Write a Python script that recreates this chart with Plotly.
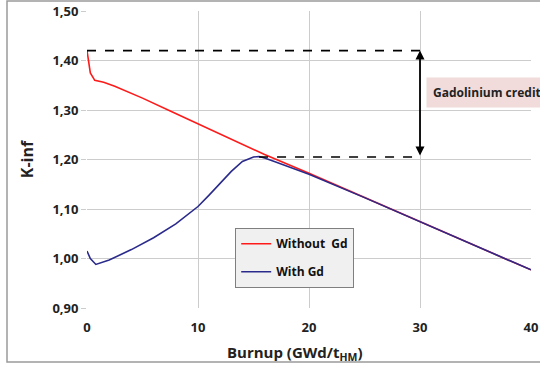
import plotly.graph_objects as go

burnup_nogd = [0, 0.3, 0.7, 1.5, 2.5, 5, 7.5, 10, 12.5, 15, 16, 20, 25, 30, 35, 40]
k_nogd = [1.42, 1.375, 1.36, 1.356, 1.348, 1.324, 1.298, 1.272, 1.246, 1.22, 1.21, 1.172, 1.123, 1.074, 1.026, 0.977]

burnup_gd = [0, 0.3, 0.8, 2, 4, 6, 8, 10, 11, 12, 13, 14, 15, 15.5, 16, 17, 20, 25, 30, 35, 40]
k_gd = [1.015, 1.0, 0.988, 0.997, 1.018, 1.042, 1.07, 1.105, 1.128, 1.152, 1.176, 1.196, 1.205, 1.206, 1.203, 1.195, 1.17, 1.123, 1.074, 1.026, 0.977]

x_ticks = [0, 10, 20, 30, 40]
y_ticks = [0.9, 1.0, 1.1, 1.2, 1.3, 1.4, 1.5]
y_tick_text = ["0,90", "1,00", "1,10", "1,20", "1,30", "1,40", "1,50"]

k_top = 1.42
k_peak = 1.205
credit_x = 30
peak_x = 15.5

FONT = "Open Sans"

fig = go.Figure()
fig.add_trace(go.Scatter(x=burnup_nogd, y=k_nogd, mode="lines", name="Without\u00a0\u00a0Gd",
                         legendgroup="a", line=dict(color="#ff1a1a", width=1.6)))
fig.add_trace(go.Scatter(x=burnup_gd, y=k_gd, mode="lines", name="With Gd",
                         legendgroup="b", line=dict(color="#2a2a8c", width=1.6)))

# dashed reference lines
fig.add_trace(go.Scatter(x=[0, credit_x], y=[k_top, k_top], mode="lines", showlegend=False,
                         line=dict(color="black", width=1.6, dash="dash"), hoverinfo="skip"))
fig.add_trace(go.Scatter(x=[peak_x, credit_x], y=[k_peak, k_peak], mode="lines", showlegend=False,
                         line=dict(color="black", width=1.6, dash="dash"), hoverinfo="skip"))

fig.add_annotation(x=credit_x, y=k_top, ax=credit_x, ay=k_peak, xref="x", yref="y",
                   axref="x", ayref="y", text="", showarrow=True, arrowhead=2,
                   arrowside="end+start", arrowwidth=1.8, arrowsize=1, arrowcolor="black")
fig.add_annotation(x=30.5, y=1.335, xref="x", yref="y", text="<b>Gadolinium credit</b>",
                   showarrow=False, xanchor="left", yanchor="middle",
                   bgcolor="#f2dcdb", borderpad=6,
                   font=dict(family=FONT, size=12, color="#222"))

# outer chart border
def px2paper_x(px):
    return (px - 87) / (531 - 87)

def px2paper_y(py):
    return (308 - py) / (308 - 11)

fig.add_shape(type="rect", xref="paper", yref="paper",
              x0=px2paper_x(7), x1=px2paper_x(545), y0=px2paper_y(362), y1=px2paper_y(1),
              line=dict(color="#9a9a9a", width=1.5), fillcolor="rgba(0,0,0,0)", layer="below")

# x-axis title (positioned slightly left of center, as in the original)
fig.add_annotation(x=px2paper_x(295), y=px2paper_y(353), xref="paper", yref="paper",
                   text="<b>Burnup (GWd/t<sub>HM</sub>)</b>", showarrow=False,
                   xanchor="center", yanchor="middle",
                   font=dict(family=FONT, size=15, color="#222"))

fig.update_layout(
    width=540, height=367,
    margin=dict(l=87, r=9, t=11, b=59, autoexpand=False),
    paper_bgcolor="white", plot_bgcolor="white",
    font=dict(family=FONT, color="#222"),
    showlegend=True,
    legend=dict(x=px2paper_x(235), y=px2paper_y(228), xanchor="left", yanchor="top",
                bgcolor="#f0f0f0", bordercolor="#7f7f7f", borderwidth=1.2,
                font=dict(family=FONT, size=12, color="#111", weight="bold"),
                tracegroupgap=9, itemwidth=30),
    xaxis=dict(range=[0, 40], tickvals=x_ticks, showgrid=True, gridcolor="#cccccc", gridwidth=1.2,
               zeroline=False, showline=False, ticks="", automargin=False,
               ticklabelstandoff=10,
               tickfont=dict(family=FONT, size=13, color="#222", weight="bold")),
    yaxis=dict(range=[0.9, 1.5], tickvals=y_ticks, ticktext=y_tick_text, showgrid=True,
               gridcolor="#cccccc", gridwidth=1.2, zeroline=False, showline=False,
               ticks="outside", ticklen=5, tickcolor="#cccccc", automargin=False,
               tickfont=dict(family=FONT, size=13, color="#222", weight="bold"),
               title=dict(text="<b>K-inf</b>", standoff=14,
                          font=dict(family=FONT, size=16, color="#222"))),
)

fig.write_html("out.html")
